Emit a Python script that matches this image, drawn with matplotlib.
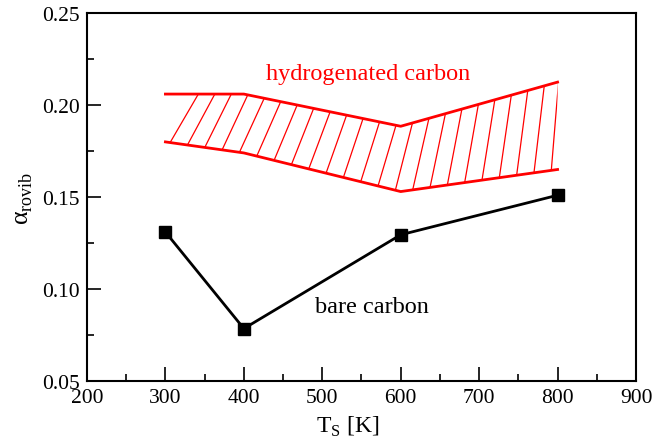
import numpy as np
import matplotlib
matplotlib.use("Agg")
import matplotlib.pyplot as plt
from matplotlib.patches import Polygon

plt.rcParams['font.family'] = ['Liberation Serif', 'DejaVu Serif']
plt.rcParams['mathtext.fontset'] = 'custom'
plt.rcParams['mathtext.rm'] = 'Liberation Serif'

# data
T_bare = [300, 400, 600, 800]
alpha_bare = [0.131, 0.0785, 0.1295, 0.151]

T_hyd = [300, 400, 600, 800]
alpha_hyd_upper = [0.206, 0.206, 0.1885, 0.2125]
alpha_hyd_lower = [0.180, 0.174, 0.153, 0.165]

xticks = [200, 300, 400, 500, 600, 700, 800, 900]
yticks = [0.05, 0.10, 0.15, 0.20, 0.25]

fig = plt.figure(figsize=(6.65, 4.39), dpi=100)
ax = fig.add_axes([0.1308, 0.1298, 0.8256, 0.838])

red = '#ff0000'
ax.plot(T_hyd, alpha_hyd_upper, color=red, lw=2)
ax.plot(T_hyd, alpha_hyd_lower, color=red, lw=2)

# hatch lines between the two curves, clipped to the band
poly_x = list(T_hyd) + list(T_hyd[::-1])
poly_y = list(alpha_hyd_upper) + list(alpha_hyd_lower[::-1])
band = Polygon(np.column_stack([poly_x, poly_y]), closed=True, fill=False,
               edgecolor='none', transform=ax.transData)
ax.add_patch(band)
n_hatch = 23
xb = np.linspace(306, 792, n_hatch)
offs = np.linspace(36, 12, n_hatch)
for x0, off in zip(xb, offs):
    y0 = np.interp(x0, T_hyd, alpha_hyd_lower)
    x1 = x0 + off
    y1 = np.interp(x1, T_hyd, alpha_hyd_upper)
    if x1 > 800:
        y1 = y0 + (np.interp(800, T_hyd, alpha_hyd_upper) - y0) * 1.3
    ln, = ax.plot([x0, x1], [y0, y1], color=red, lw=0.9)
    ln.set_clip_path(band)

ax.plot(T_bare, alpha_bare, color='black', lw=2, marker='s', markersize=9)

ax.text(558, 0.2172, 'hydrogenated carbon', color=red, fontsize=17.5,
        ha='center', va='center')
ax.text(563, 0.0905, 'bare carbon', color='black', fontsize=17.5,
        ha='center', va='center')

ax.set_xlim(200, 900)
ax.set_ylim(0.05, 0.25)
ax.set_xticks(xticks)
ax.set_yticks(yticks)
ax.set_xticklabels([str(t) for t in xticks])
ax.set_yticklabels(['%.2f' % t for t in yticks])
ax.set_xticks(np.arange(250, 900, 100), minor=True)
ax.set_yticks(np.arange(0.075, 0.25, 0.05), minor=True)
ax.tick_params(which='both', direction='in', labelsize=15.5, width=1.2)
ax.tick_params(which='major', length=10, pad=5)
ax.tick_params(which='minor', length=5)
for s in ax.spines.values():
    s.set_linewidth(1.5)

ax.set_xlabel(r'T$_{\rm S}$ [K]', fontsize=17, labelpad=1)
ax.xaxis.set_label_coords(0.475, -0.09)
ax.set_ylabel(r'α$_{\rm rovib}$', fontsize=18.5, labelpad=5)

fig.savefig('out.png', dpi=100)
